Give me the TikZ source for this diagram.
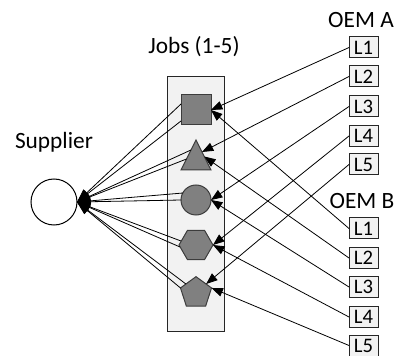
\documentclass[tikz,border=0pt]{standalone}
\usepackage{fontspec}
\setmainfont{Carlito}
\usetikzlibrary{shapes.geometric,arrows.meta,calc}
\definecolor{shapegray}{RGB}{128,128,128}
\definecolor{shapeedge}{RGB}{60,60,60}
\definecolor{boxfill}{RGB}{242,242,242}
\begin{document}
\begin{tikzpicture}[x=0.75pt,y=-0.75pt,
  job/.style={draw=shapeedge, fill=shapegray, line width=0.75pt, inner sep=0pt, outer sep=0pt},
  bigtext/.style={font=\fontsize{17.5}{19}\selectfont, inner sep=0pt},
  lbox/.style={draw=black!85, fill=boxfill, line width=0.75pt, minimum width=21.75pt,
    minimum height=15.75pt, inner sep=0pt, outer sep=0pt, font=\fontsize{15.5}{16}\selectfont},
  conn/.style={line width=0.6pt, -{Triangle[length=8.5pt,width=6.5pt]}},
  supl/.style={line width=0.6pt, -{Triangle[length=10pt,width=7pt]}}]
\useasboundingbox (0,0) rectangle (400,356);

% container
\node (jobs) [draw=black!85, fill=boxfill, line width=0.75pt, minimum width=42.75pt,
  minimum height=190.5pt, inner sep=0pt] at (195.5,204) {};
\node (jobslbl) [bigtext] at (194,47) {Jobs (1-5)};

% jobs
\node (sq)  [job, rectangle, minimum size=22.5pt] at (196,110) {};
\node (tri) [job, isosceles triangle, shape border rotate=90, isosceles triangle stretches,
  minimum width=22.5pt, minimum height=22.5pt, anchor=lower side] at (196,170) {};
\node (cir) [job, circle, minimum size=22.5pt] at (196,200) {};
\node (hex) [job, regular polygon, regular polygon sides=6, minimum size=25.5pt] at (196,245) {};
\node (pen) [job, regular polygon, regular polygon sides=5, minimum size=24.5pt] at (196,293) {};

% supplier
\node (sup) [draw=black, fill=white, circle, line width=0.75pt, minimum size=34.5pt, inner sep=0pt, outer sep=0pt] at (54,202) {};
\node (suplbl) [bigtext] at (54,142) {Supplier};

% OEMs
\node (oemA) [bigtext] at (361,20) {OEM A};
\node (oemB) [bigtext] at (362,201) {OEM B};
\foreach \i/\ya/\yb in {1/47.5/228.5, 2/76.5/258, 3/106.5/287, 4/136/317, 5/164.5/345.5} {
  \node (a\i) [lbox] at (363.5,\ya) {L\i};
  \node (b\i) [lbox] at (363.5,\yb) {L\i};
}

% target points on jobs
\coordinate (triA) at ($(tri.lower side)+(6,-18)$);
\coordinate (triB) at ($(tri.lower side)+(8.25,-13.5)$);
\coordinate (penA) at ($(pen.corner 1)!0.65!(pen.corner 5)$);

% OEM A connectors
\draw[conn] (a1.west) -- (sq.east);
\draw[conn] (a2.west) -- (triA);
\draw[conn] (a3.west) -- (cir.east);
\draw[conn] (a4.west) -- (hex.east);
\draw[conn] (a5.west) -- (penA);
% OEM B connectors
\draw[conn] (b1.west) -- (sq.east);
\draw[conn] (b2.west) -- (triB);
\draw[conn] (b3.west) -- (cir.east);
\draw[conn] (b4.west) -- (hex.east);
\draw[conn] (b5.west) -- (pen.corner 5);

% supplier connectors
\coordinate (sq1) at ($(sq.west)+(0,-6)$);
\coordinate (sq2) at ($(sq.west)+(0,11)$);
\coordinate (tr1) at ($(tri.lower side)+(-5,-20)$);
\coordinate (tr2) at ($(tri.lower side)+(-9.5,-11)$);
\coordinate (ci1) at ($(cir.center)+(-13,-7)$);
\coordinate (ci2) at (cir.west);
\coordinate (hx1) at ($(hex.west)+(2,-4)$);
\coordinate (hx2) at ($(hex.west)+(1,2)$);
\coordinate (pn1) at ($(pen.corner 1)!0.65!(pen.corner 2)$);
\coordinate (pn2) at (pen.corner 2);
\foreach \p in {sq1,sq2,tr1,tr2,ci1,ci2,hx1,hx2,pn1,pn2} {
  \draw[supl] (\p) -- (sup.east);
}
\end{tikzpicture}
\end{document}
